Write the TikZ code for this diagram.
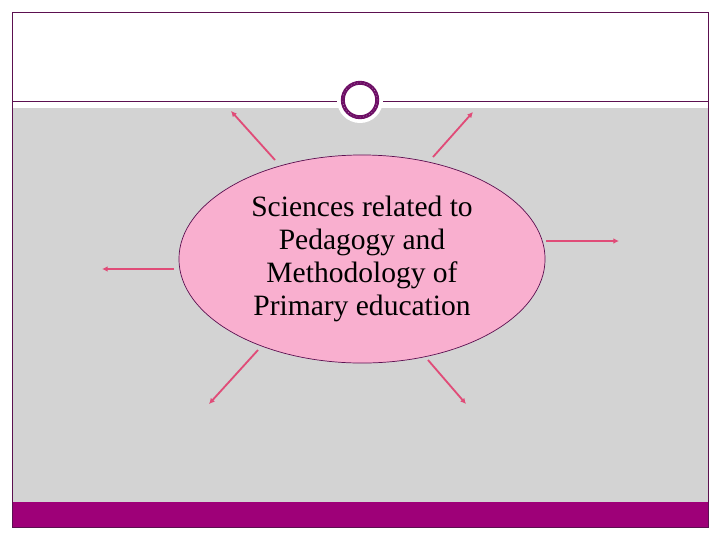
\documentclass[tikz,border=0pt]{standalone}
\usepackage{fontspec}
\setmainfont{Liberation Serif}
\usetikzlibrary{arrows.meta, shapes.geometric}
\definecolor{framepurple}{HTML}{5C1050}
\definecolor{bandpurple}{HTML}{9E0078}
\definecolor{panelgray}{HTML}{D3D3D3}
\definecolor{topicpink}{HTML}{F9AFCF}
\definecolor{spokered}{HTML}{E04C78}
\definecolor{ringpurple}{HTML}{6E0F66}
\begin{document}
\begin{tikzpicture}[x=0.025cm, y=-0.025cm,
	spoke/.style={-{Latex[length=4, width=4]}, line width=1.3pt, color=spokered}]
	\useasboundingbox (0,0) rectangle (720,540);
	\fill[white] (0,0) rectangle (720,540);
	\fill[panelgray] (12,108) rectangle (708,502);
	\fill[bandpurple] (12,502) rectangle (708,527);
	\draw[framepurple, line width=0.7pt] (12,12) rectangle (708,527);
	\draw[framepurple, line width=0.7pt] (12,101) -- (708,101);
	\fill[white] (360,100) circle (0.575cm);
	\draw[ringpurple, line width=2.8pt] (360,100) circle (0.43cm);
	\draw[white, dotted, line width=0.3pt] (360,100) circle (0.43cm);
	\node[ellipse, draw=framepurple, line width=0.5pt, fill=topicpink, minimum width=9.15cm, minimum height=5.2cm, inner sep=0, align=center, font=\fontsize{21}{23.5}\selectfont] (topic) at (362,259) {Sciences related to\\Pedagogy and\\Methodology of\\Primary education};
	\coordinate (ulA) at (275,160);
	\coordinate (ulB) at (231,111);
	\coordinate (urA) at (433,157);
	\coordinate (urB) at (473,112);
	\coordinate (lA) at (174,269);
	\coordinate (lB) at (102,269);
	\coordinate (rA) at (546,241);
	\coordinate (rB) at (619,241);
	\coordinate (llA) at (258,350);
	\coordinate (llB) at (209,404);
	\coordinate (lrA) at (428,360);
	\coordinate (lrB) at (466,404);
	\draw[spoke] (ulA) -- (ulB);
	\draw[spoke] (urA) -- (urB);
	\draw[spoke] (lA) -- (lB);
	\draw[spoke] (rA) -- (rB);
	\draw[spoke] (llA) -- (llB);
	\draw[spoke] (lrA) -- (lrB);
\end{tikzpicture}
\end{document}
